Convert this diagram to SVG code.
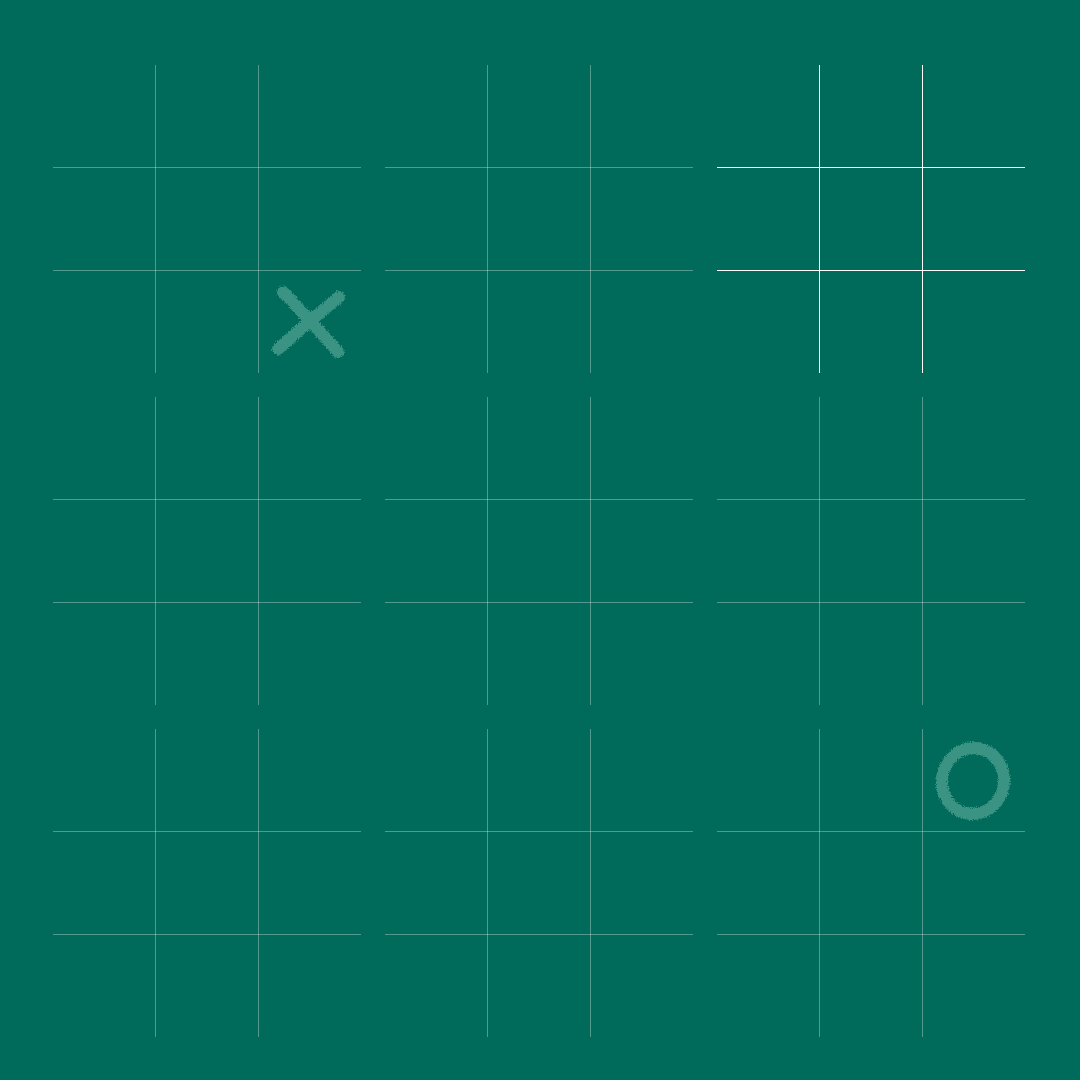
<svg xmlns="http://www.w3.org/2000/svg" width="1080" height="1080" viewBox="0 0 1080 1080">
<defs>
<style>
.g{stroke:#ffffff;stroke-opacity:0.32;stroke-width:1;fill:none}
.g.active{stroke-opacity:1}
.mark{fill:none;stroke:#3a9383;stroke-linecap:round;filter:url(#rough)}
</style>
<filter id="rough" x="-20%" y="-20%" width="140%" height="140%">
<feTurbulence type="fractalNoise" baseFrequency="0.8" numOctaves="2" seed="3" result="n"/>
<feDisplacementMap in="SourceGraphic" in2="n" scale="5" xChannelSelector="R" yChannelSelector="G"/>
</filter>
<g id="board">
<line x1="102.5" y1="0" x2="102.5" y2="308"/>
<line x1="205.5" y1="0" x2="205.5" y2="308"/>
<line x1="0" y1="102.5" x2="308" y2="102.5"/>
<line x1="0" y1="205.5" x2="308" y2="205.5"/>
</g>
</defs>
<rect width="1080" height="1080" fill="#006a5b"/>
<g id="board-1" class="g" transform="translate(53,65)"><use href="#board"/></g>
<g id="board-2" class="g" transform="translate(385,65)"><use href="#board"/></g>
<g id="board-3" class="g active" transform="translate(717,65)"><use href="#board"/></g>
<g id="board-4" class="g" transform="translate(53,397)"><use href="#board"/></g>
<g id="board-5" class="g" transform="translate(385,397)"><use href="#board"/></g>
<g id="board-6" class="g" transform="translate(717,397)"><use href="#board"/></g>
<g id="board-7" class="g" transform="translate(53,729)"><use href="#board"/></g>
<g id="board-8" class="g" transform="translate(385,729)"><use href="#board"/></g>
<g id="board-9" class="g" transform="translate(717,729)"><use href="#board"/></g>
<g id="mark-x" class="mark">
<path d="M283 292 Q310 320 338 352" stroke-width="12"/>
<path d="M339 297 Q308 322 278 349" stroke-width="12"/>
</g>
<g id="mark-o" class="mark">
<ellipse cx="973" cy="781" rx="31" ry="33" transform="rotate(10 973 781)" stroke-width="12"/>
</g>
</svg>
